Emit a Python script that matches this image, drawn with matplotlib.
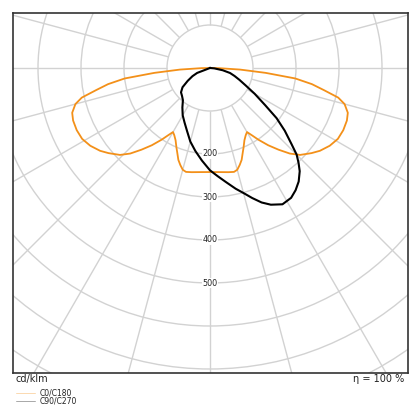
import numpy as np
import matplotlib
matplotlib.use("Agg")
import matplotlib.pyplot as plt
from matplotlib.patches import Circle
from matplotlib.lines import Line2D

# ---- data (cd/klm vs gamma angle in degrees, 0 = nadir) ----
c0_gamma = [0, 5, 10, 13, 15, 17, 19, 21, 23, 25.5, 28, 30, 32, 34, 37, 40, 43, 46, 50, 53,
            57, 61, 65, 69, 72, 75, 77, 79, 81, 83, 85, 87, 89, 90]
c0_values = [242, 243, 246, 248, 245, 236, 226, 212, 200, 186, 177, 172, 185, 201, 225, 248,
             272, 291, 308, 320, 332, 340, 342, 341, 337, 324, 306, 270, 240, 200, 130, 70, 20, 0]
c180_gamma = c0_gamma
c180_values = c0_values

c90_gamma = [0, 4, 8, 12, 15, 18, 21, 24, 28, 32, 35, 38, 41, 43, 45, 47, 50, 53, 56, 60,
             64, 68, 72, 76, 80, 85, 90]
c90_values = [238, 252, 268, 287, 301, 318, 335, 348, 359, 356, 347, 335, 318, 302, 285, 259,
              227, 194, 155, 120, 92, 74, 60, 48, 30, 10, 0]
c270_gamma = [0, 5, 10, 15, 20, 25, 30, 35, 40, 45, 50, 55, 60, 65, 69, 80, 90]
c270_values = [238, 216, 196, 177, 156, 140, 127, 112, 98, 92, 88, 78, 60, 45, 32, 0, 0]

ring_labels = [200, 300, 400, 500]
rings = [100, 200, 300, 400, 500, 600, 700, 800, 900, 1000]
legend_labels = ["C0/C180", "C90/C270"]
unit_label = "cd/klm"
eta_label = "η = 100 %"

ORANGE = "#f39019"
BLACK = "#000000"
GRID = "#d2d2d2"

W = H = 420
fig = plt.figure(figsize=(W / 100, H / 100), dpi=100)
# axes box in pixels: x 13..408, y 13..373
ax = fig.add_axes([13 / W, (H - 373) / H, 395 / W, 360 / H])
scale = 0.43  # px per cd/klm
cx, cy = 210, 68
ax.set_xlim((13 - cx) / scale, (408 - cx) / scale)
ax.set_ylim(-(373 - cy) / scale, (cy - 13) / scale)
ax.set_aspect("equal", adjustable="box")
ax.set_xticks([])
ax.set_yticks([])
for s in ax.spines.values():
    s.set_color("#333333")
    s.set_linewidth(1.2)

# grid circles
for r in rings:
    ax.add_patch(Circle((0, 0), r, fill=False, edgecolor=GRID, linewidth=1.0, zorder=1))
# spokes every 15 deg from r=100 outward
for a in range(0, 360, 15):
    t = np.deg2rad(a)
    ax.plot([100 * np.sin(t), 1200 * np.sin(t)], [-100 * np.cos(t), -1200 * np.cos(t)],
            color=GRID, linewidth=1.0, zorder=1, solid_capstyle="butt")

for v in ring_labels:
    ax.text(0, -v, str(v), ha="center", va="center", fontsize=5.8, color="#222222", zorder=2,
            bbox=dict(boxstyle="square,pad=0.1", facecolor="white", edgecolor="none"))


def curve(g_left, r_left, g_right, r_right):
    gl = np.deg2rad(np.array(g_left, dtype=float))[::-1]
    rl = np.array(r_left, dtype=float)[::-1]
    gr = np.deg2rad(np.array(g_right, dtype=float))
    rr = np.array(r_right, dtype=float)
    x = np.concatenate([-rl * np.sin(gl), rr * np.sin(gr)])
    y = np.concatenate([-rl * np.cos(gl), -rr * np.cos(gr)])
    return x, y


xo, yo = curve(c180_gamma, c180_values, c0_gamma, c0_values)
ax.plot(xo, yo, color=ORANGE, linewidth=1.3, zorder=3, solid_joinstyle="round")
xb, yb = curve(c270_gamma, c270_values, c90_gamma, c90_values)
ax.plot(xb, yb, color=BLACK, linewidth=1.5, zorder=4, solid_joinstyle="round")

# footer texts
fig.text(16 / W, 1 - 379 / H, unit_label, ha="left", va="center", fontsize=7, color="#222222")
fig.text(404 / W, 1 - 379 / H, eta_label, ha="right", va="center", fontsize=7, color="#222222")

# legend
for i, (lab, col) in enumerate(zip(legend_labels, [ORANGE, BLACK])):
    yy = 1 - (393 + 7.5 * i) / H
    fig.add_artist(Line2D([16 / W, 35 / W], [yy, yy], color=col, linewidth=0.4, alpha=0.6))
    fig.text(40 / W, yy, lab, ha="left", va="center", fontsize=5.5, color="#222222")

fig.savefig("out.png", dpi=100)
